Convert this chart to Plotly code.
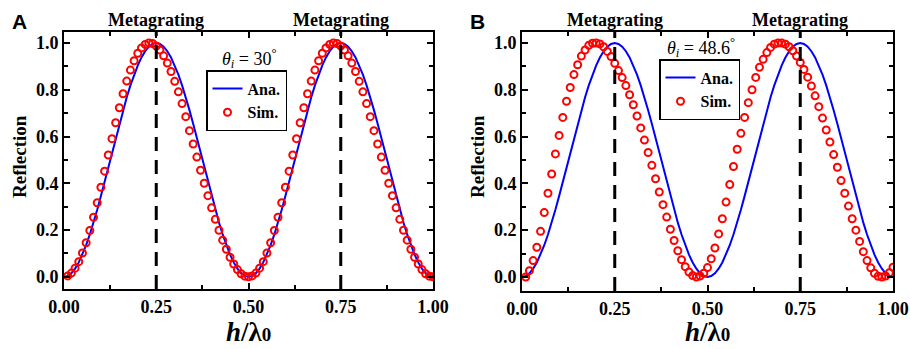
import plotly.graph_objects as go

# ---------------- data ----------------
h_ana = [round(i * 0.01, 2) for i in range(0, 101)]
R_ana = [0.0, 0.0039, 0.0157, 0.0351, 0.0618, 0.0955, 0.1355, 0.1813, 0.2321, 0.2871,
         0.3455, 0.4063, 0.4686, 0.5314, 0.5937, 0.6545, 0.7129, 0.7679, 0.8187, 0.8645,
         0.9045, 0.9382, 0.9649, 0.9843, 0.9961, 1.0, 0.9961, 0.9843, 0.9649, 0.9382,
         0.9045, 0.8645, 0.8187, 0.7679, 0.7129, 0.6545, 0.5937, 0.5314, 0.4686, 0.4063,
         0.3455, 0.2871, 0.2321, 0.1813, 0.1355, 0.0955, 0.0618, 0.0351, 0.0157, 0.0039,
         0.0, 0.0039, 0.0157, 0.0351, 0.0618, 0.0955, 0.1355, 0.1813, 0.2321, 0.2871,
         0.3455, 0.4063, 0.4686, 0.5314, 0.5937, 0.6545, 0.7129, 0.7679, 0.8187, 0.8645,
         0.9045, 0.9382, 0.9649, 0.9843, 0.9961, 1.0, 0.9961, 0.9843, 0.9649, 0.9382,
         0.9045, 0.8645, 0.8187, 0.7679, 0.7129, 0.6545, 0.5937, 0.5314, 0.4686, 0.4063,
         0.3455, 0.2871, 0.2321, 0.1813, 0.1355, 0.0955, 0.0618, 0.0351, 0.0157, 0.0039,
         0.0]

h_sim = [round(i * 0.01, 2) for i in range(1, 101)]
R_sim_A = [0.004, 0.016, 0.037, 0.065, 0.102, 0.146, 0.198, 0.255, 0.317, 0.383,
           0.452, 0.521, 0.591, 0.659, 0.723, 0.783, 0.837, 0.884, 0.924, 0.956,
           0.979, 0.994, 1.000, 0.998, 0.987, 0.970, 0.945, 0.914, 0.878, 0.836,
           0.791, 0.741, 0.685, 0.625, 0.568, 0.512, 0.456, 0.400, 0.347, 0.295,
           0.246, 0.199, 0.157, 0.118, 0.084, 0.055, 0.031, 0.013, 0.003, 0.000,
           0.004, 0.016, 0.037, 0.065, 0.102, 0.146, 0.198, 0.255, 0.317, 0.383,
           0.452, 0.521, 0.591, 0.659, 0.723, 0.783, 0.837, 0.884, 0.924, 0.956,
           0.979, 0.994, 1.000, 0.998, 0.987, 0.970, 0.945, 0.914, 0.878, 0.836,
           0.791, 0.741, 0.685, 0.625, 0.568, 0.512, 0.456, 0.400, 0.347, 0.295,
           0.246, 0.199, 0.157, 0.118, 0.084, 0.055, 0.031, 0.013, 0.003, 0.000]
R_sim_B = [0.000, 0.027, 0.070, 0.127, 0.195, 0.275, 0.358, 0.440, 0.526, 0.605,
           0.682, 0.751, 0.810, 0.865, 0.907, 0.944, 0.970, 0.990, 0.999, 1.000,
           0.996, 0.984, 0.964, 0.942, 0.913, 0.882, 0.852, 0.818, 0.779, 0.736,
           0.688, 0.637, 0.585, 0.532, 0.477, 0.420, 0.363, 0.309, 0.256, 0.204,
           0.156, 0.112, 0.074, 0.044, 0.021, 0.006, 0.000, 0.004, 0.016, 0.040,
           0.078, 0.124, 0.184, 0.249, 0.320, 0.395, 0.472, 0.546, 0.614, 0.682,
           0.745, 0.800, 0.853, 0.896, 0.930, 0.959, 0.981, 0.995, 1.000, 1.000,
           0.995, 0.984, 0.967, 0.944, 0.917, 0.887, 0.854, 0.816, 0.774, 0.728,
           0.679, 0.628, 0.577, 0.523, 0.469, 0.412, 0.358, 0.303, 0.249, 0.200,
           0.152, 0.108, 0.070, 0.039, 0.016, 0.003, 0.000, 0.004, 0.018, 0.042]

metagrating_positions = [0.25, 0.75]
metagrating_label = "Metagrating"
x_ticks = [0.0, 0.25, 0.5, 0.75, 1.0]
y_ticks = [0.0, 0.2, 0.4, 0.6, 0.8, 1.0]
panel_labels = ["A", "B"]
angle_texts = ["<i>θ<sub>i</sub></i> = 30<sup>°</sup>", "<i>θ<sub>i</sub></i> = 48.6<sup>°</sup>"]
legend_names = ["<b>Ana.</b>", "<b>Sim.</b>"]
y_title = "Reflection"
x_title = "<b><i>h</i>/λ<span style='font-size:19px'>0</span></b>"

# ---------------- layout helpers ----------------
W, H = 910, 349
def px(x):
    return x / W
def py(y):
    return 1 - y / H

SERIF = "Liberation Serif, Times New Roman, DejaVu Serif, serif"
BLUE = "#0000ff"
RED = "#ff0000"

panels = [
    dict(xa="x", ya="y", left=64, right=433, top=32, bottom=289, yr=[-0.052, 1.047],
         sim=R_sim_A, legend="legend", leg=(206, 70), ang=(249, 58)),
    dict(xa="x2", ya="y2", left=522, right=893, top=32, bottom=291, yr=[-0.06, 1.047],
         sim=R_sim_B, legend="legend2", leg=(659, 59), ang=(701, 48)),
]

fig = go.Figure()
annotations = []
shapes = []
layout = {}

for i, p in enumerate(panels):
    fig.add_trace(go.Scatter(x=h_ana, y=R_ana, mode="lines", name=legend_names[0],
                             line=dict(color=BLUE, width=2), xaxis=p["xa"], yaxis=p["ya"],
                             legend=p["legend"]))
    fig.add_trace(go.Scatter(x=h_sim, y=p["sim"], mode="markers", name=legend_names[1],
                             marker=dict(symbol="circle-open", size=7, color=RED,
                                         line=dict(color=RED, width=2)),
                             xaxis=p["xa"], yaxis=p["ya"], legend=p["legend"]))
    suffix = "" if i == 0 else "2"
    axis_common = dict(showline=True, linecolor="black", linewidth=2, mirror="ticks",
                       ticks="inside", tickcolor="black", tickwidth=1.5, ticklen=6,
                       showgrid=False, zeroline=False, automargin=False)
    layout["xaxis" + suffix] = dict(
        domain=[px(p["left"]), px(p["right"])], range=[0, 1], anchor="y" + suffix,
        tickvals=x_ticks, tickformat=".2f",
        tickfont=dict(family=SERIF, size=18, color="black", weight="bold"),
        minor=dict(dtick=0.125, ticks="inside", ticklen=4, tickwidth=1.5, tickcolor="black"),
        **axis_common)
    layout["yaxis" + suffix] = dict(
        domain=[py(p["bottom"]), py(p["top"])], range=p["yr"], anchor="x" + suffix,
        tickvals=y_ticks, tickformat=".1f",
        tickfont=dict(family=SERIF, size=18, color="black", weight="bold"),
        minor=dict(dtick=0.1, ticks="inside", ticklen=4, tickwidth=1.5, tickcolor="black"),
        **axis_common)
    layout[p["legend"]] = dict(
        x=px(p["leg"][0]), y=py(p["leg"][1]), xanchor="left", yanchor="top",
        font=dict(family=SERIF, size=16, color="black"), bgcolor="white",
        bordercolor="black", borderwidth=1.5, tracegroupgap=0)
    xref = "x" + suffix
    for xv in metagrating_positions:
        shapes.append(dict(type="line", xref=xref, yref="y" + suffix + " domain",
                           x0=xv, x1=xv, y0=0, y1=1,
                           line=dict(color="black", width=3, dash="14px,9px"), layer="above"))
        annotations.append(dict(x=xv, xref=xref, y=py(20), yref="paper",
                                text="<b>" + metagrating_label + "</b>", showarrow=False,
                                font=dict(family=SERIF, size=18, color="black"),
                                xanchor="center", yanchor="middle"))
    annotations.append(dict(x=px(p["left"] - 45), y=py(22), xref="paper", yref="paper",
                            text="<b>" + panel_labels[i] + "</b>", showarrow=False,
                            font=dict(family="Liberation Sans, Arial, sans-serif", size=21,
                                      color="black"),
                            xanchor="center", yanchor="middle"))
    annotations.append(dict(x=px(p["ang"][0]), y=py(p["ang"][1]), xref="paper", yref="paper",
                            text=angle_texts[i], showarrow=False,
                            font=dict(family=SERIF, size=18, color="black"),
                            xanchor="center", yanchor="middle"))
    annotations.append(dict(x=px(p["left"] - 45), y=py(157), xref="paper", yref="paper",
                            text="<b>" + y_title + "</b>", textangle=-90, showarrow=False,
                            font=dict(family=SERIF, size=19, color="black"),
                            xanchor="center", yanchor="middle"))
    annotations.append(dict(x=px((p["left"] + p["right"]) / 2), y=py(332), xref="paper",
                            yref="paper", text=x_title, showarrow=False,
                            font=dict(family=SERIF, size=27, color="black"),
                            xanchor="center", yanchor="middle"))

fig.update_layout(
    template="none",
    width=W, height=H, margin=dict(l=0, r=0, t=0, b=0, pad=0, autoexpand=False),
    paper_bgcolor="white", plot_bgcolor="white",
    annotations=annotations, shapes=shapes, showlegend=True, **layout)

fig.write_html("out.html", config={"displayModeBar": False},
               post_script="document.body.style.margin='0px';document.body.style.padding='0px';")
